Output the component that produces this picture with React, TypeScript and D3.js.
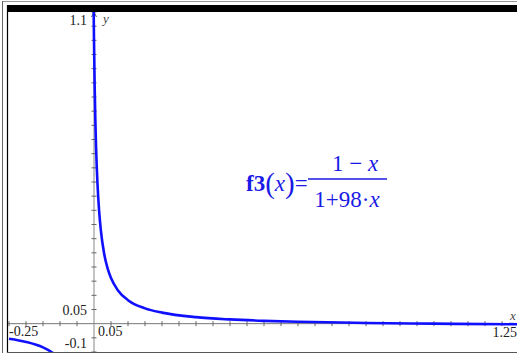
import React, { useEffect, useRef } from 'react'
import * as d3 from 'd3'

// points (right branch, x > -1/98)
const rightX = [-0.0009, 0, 0.002, 0.004, 0.006, 0.008, 0.01, 0.015, 0.02, 0.03, 0.04, 0.05, 0.07, 0.1, 0.15, 0.2, 0.3, 0.4, 0.5, 0.6, 0.8, 1.0, 1.25]
const rightY = [1.1, 1, 0.834, 0.716, 0.626, 0.556, 0.5, 0.399, 0.331, 0.246, 0.195, 0.161, 0.118, 0.083, 0.054, 0.039, 0.023, 0.015, 0.01, 0.0067, 0.0025, 0, -0.002]
// left branch (x < -1/98), only the visible piece
const leftX = [-0.25, -0.2, -0.15, -0.125, -0.12]
const leftY = [-0.0532, -0.0645, -0.0839, -0.1, -0.104]

const xLabels = ['-0.25', '0.05', '1.25']
const yLabels = ['1.1', '0.05', '-0.1']

const W = 517
const H = 354

function App() {
  const ref = useRef<SVGSVGElement>(null)

  useEffect(() => {
    const svg = d3.select(ref.current)
    svg.selectAll('*').remove()

    const x = d3.scaleLinear().domain([-0.25, 1.25]).range([9, 519])
    const y = d3.scaleLinear().domain([-0.1, 1.1]).range([352, 12])
    const x0 = x(0)
    const y0 = y(0)

    svg.append('rect').attr('width', W).attr('height', H).attr('fill', '#fff')

    // frame
    svg.append('line').attr('x1', 2).attr('x2', W).attr('y1', 1.5).attr('y2', 1.5)
      .attr('stroke', '#999').attr('stroke-width', 1)
    svg.append('line').attr('x1', 2.5).attr('x2', 2.5).attr('y1', 1).attr('y2', 353)
      .attr('stroke', '#666').attr('stroke-width', 1)
    svg.append('rect').attr('x', 7).attr('y', 5).attr('width', W - 7).attr('height', 7).attr('fill', '#000')
    svg.append('line').attr('x1', 7.5).attr('x2', 7.5).attr('y1', 5).attr('y2', 353)
      .attr('stroke', '#000').attr('stroke-width', 1.2)
    svg.append('line').attr('x1', 7).attr('x2', W).attr('y1', 352.5).attr('y2', 352.5)
      .attr('stroke', '#555').attr('stroke-width', 1)

    svg.append('defs').append('clipPath').attr('id', 'plotclip')
      .append('rect').attr('x', 8).attr('y', 12).attr('width', W - 8).attr('height', 340)

    const g = svg.append('g').attr('clip-path', 'url(#plotclip)')

    // axes
    g.append('line').attr('x1', 8).attr('x2', W).attr('y1', y0).attr('y2', y0)
      .attr('stroke', '#777').attr('stroke-width', 1)
    g.append('line').attr('x1', x0).attr('x2', x0).attr('y1', 12).attr('y2', 352)
      .attr('stroke', '#888').attr('stroke-width', 1)

    const xt = d3.range(-25, 126, 5).map(d => d / 100).filter(d => d !== 0)
    g.selectAll('.xt').data(xt).enter().append('line')
      .attr('x1', d => x(d)).attr('x2', d => x(d))
      .attr('y1', y0 - 2.5).attr('y2', y0 + 2.5)
      .attr('stroke', '#666').attr('stroke-width', 1)
    const yt = d3.range(-10, 111, 5).map(d => d / 100).filter(d => d !== 0)
    g.selectAll('.yt').data(yt).enter().append('line')
      .attr('x1', x0 - 2.5).attr('x2', x0 + 2.5)
      .attr('y1', d => y(d)).attr('y2', d => y(d))
      .attr('stroke', '#666').attr('stroke-width', 1)

    // arrow at top of y-axis
    g.append('path').attr('d', `M${x0 - 2.5},${17} L${x0},${12} L${x0 + 2.5},${17}`)
      .attr('fill', 'none').attr('stroke', '#555').attr('stroke-width', 1)

    // curve
    const line = d3.line<[number, number]>().curve(d3.curveMonotoneX)
    const rPts: [number, number][] = rightX.map((d, i) => [x(d), y(rightY[i])])
    const lPts: [number, number][] = leftX.map((d, i) => [x(d), y(leftY[i])])
    g.append('path').attr('d', line(rPts)).attr('fill', 'none')
      .attr('stroke', '#1010ff').attr('stroke-width', 2.6)
    g.append('path').attr('d', line(lPts)).attr('fill', 'none')
      .attr('stroke', '#1010ff').attr('stroke-width', 2.6)

    // tick labels
    const font = "'Liberation Serif', 'Times New Roman', 'DejaVu Serif', serif"
    const lab = (t: string, px: number, py: number, anchor: string) =>
      svg.append('text').attr('x', px).attr('y', py).attr('text-anchor', anchor)
        .style('font-family', font).style('font-size', '14px').attr('fill', '#222').text(t)
    lab(yLabels[0], 87, 25, 'end')
    lab(yLabels[1], 87, 315, 'end')
    lab(yLabels[2], 87, 348, 'end')
    lab(xLabels[0], 9, 336, 'start')
    lab(xLabels[1], 98, 336, 'start')
    lab(xLabels[2], 517, 337, 'end')

    svg.append('text').attr('x', 103).attr('y', 23).style('font-family', font)
      .style('font-style', 'italic').style('font-size', '13px').attr('fill', '#444').text('y')
    svg.append('text').attr('x', 510).attr('y', 320).style('font-family', font)
      .style('font-style', 'italic').style('font-size', '13px').attr('fill', '#444').text('x')

    // equation
    const blue = '#1a1ae6'
    const eq = svg.append('text').attr('x', 246).attr('y', 191)
      .style('font-family', font).style('font-size', '23px').attr('fill', blue)
    eq.append('tspan').style('font-weight', 'bold').text('f3')
    eq.append('tspan').style('font-size', '29px').attr('dy', 2).text('(')
    eq.append('tspan').style('font-style', 'italic').attr('dy', -2).text('x')
    eq.append('tspan').style('font-size', '29px').attr('dy', 2).text(')')
    eq.append('tspan').attr('dy', -2).text('=')

    svg.append('line').attr('x1', 308).attr('x2', 387).attr('y1', 179).attr('y2', 179)
      .attr('stroke', blue).attr('stroke-width', 1.3)

    const num = svg.append('text').attr('x', 355).attr('y', 171).attr('text-anchor', 'middle')
      .style('font-family', font).style('font-size', '23px').attr('fill', blue)
    num.append('tspan').text('1 \u2212 ')
    num.append('tspan').style('font-style', 'italic').text('x')

    const den = svg.append('text').attr('x', 347).attr('y', 207).attr('text-anchor', 'middle')
      .style('font-family', font).style('font-size', '23px').attr('fill', blue)
    den.append('tspan').text('1+98\u00b7')
    den.append('tspan').style('font-style', 'italic').text('x')
  }, [])

  return (
    <svg ref={ref} width={W} height={H} style={{ position: 'absolute', left: 0, top: 0 }} />
  )
}

export default App
